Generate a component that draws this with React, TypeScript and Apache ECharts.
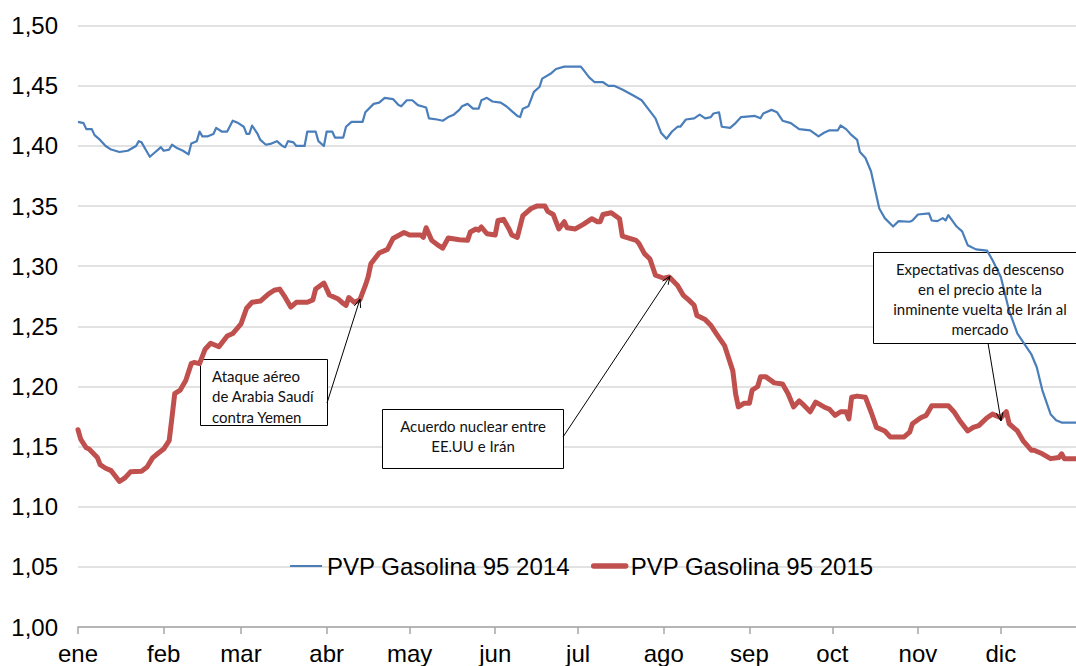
import React, { useEffect, useRef } from 'react';
import * as echarts from 'echarts';

// Month labels and their first day (day of year, 0-based)
const monthLabels = ['ene', 'feb', 'mar', 'abr', 'may', 'jun', 'jul', 'ago', 'sep', 'oct', 'nov', 'dic'];
const monthStarts = [0, 31, 59, 90, 120, 151, 181, 212, 243, 273, 304, 334];

const seriesNames = ['PVP Gasolina 95 2014', 'PVP Gasolina 95 2015'];

// PVP Gasolina 95 2014 (day of year, €/l)
const days2014 = [0,2,3,5,6,8,10,12,15,18,21,22,23,25,26,28,29,30,31,33,34,36,38,40,41,43,44,45,47,49,50,52,54,56,58,60,61,62,63,65,66,68,70,72,73,74,75,76,78,79,82,83,86,87,89,90,92,93,96,97,99,103,104,107,109,111,114,116,117,119,121,123,126,127,130,132,134,136,138,139,141,143,145,146,148,150,153,155,157,159,160,161,163,165,167,168,171,173,176,182,183,185,187,190,192,194,197,201,204,207,209,211,213,215,217,218,220,223,225,227,229,230,232,233,236,238,240,245,247,248,251,253,255,258,261,265,268,270,272,275,276,278,280,282,283,285,287,290,292,295,297,301,302,304,308,309,311,313,314,315,318,320,322,325,329,331,334,337,340,345,347,349,352,354,356,361,365];
const gas2014 = [1.420,1.419,1.414,1.414,1.409,1.405,1.400,1.397,1.395,1.396,1.400,1.404,1.403,1.395,1.391,1.395,1.397,1.399,1.396,1.397,1.401,1.398,1.396,1.393,1.402,1.404,1.412,1.408,1.408,1.410,1.415,1.412,1.412,1.421,1.419,1.416,1.410,1.410,1.417,1.410,1.405,1.401,1.402,1.404,1.402,1.400,1.399,1.404,1.403,1.400,1.400,1.412,1.412,1.404,1.400,1.412,1.412,1.407,1.407,1.416,1.420,1.420,1.428,1.435,1.436,1.440,1.439,1.434,1.433,1.438,1.438,1.434,1.432,1.423,1.422,1.421,1.424,1.426,1.430,1.433,1.435,1.431,1.431,1.438,1.440,1.437,1.436,1.433,1.429,1.425,1.424,1.431,1.433,1.445,1.449,1.456,1.460,1.464,1.466,1.466,1.463,1.457,1.453,1.453,1.450,1.450,1.447,1.442,1.438,1.429,1.423,1.411,1.406,1.412,1.416,1.416,1.422,1.423,1.426,1.423,1.424,1.427,1.428,1.416,1.415,1.419,1.424,1.425,1.423,1.427,1.430,1.428,1.421,1.419,1.414,1.413,1.408,1.411,1.413,1.413,1.417,1.414,1.409,1.405,1.395,1.390,1.379,1.348,1.340,1.333,1.3375,1.337,1.338,1.343,1.344,1.338,1.3375,1.340,1.338,1.3425,1.333,1.329,1.3175,1.314,1.313,1.305,1.291,1.263,1.244,1.227,1.216,1.197,1.177,1.172,1.170,1.170,1.170];

// PVP Gasolina 95 2015 (day of year, €/l)
const days2015 = [0,1,3,4,7,8,10,12,13,15,17,19,23,25,27,29,31,33,34,35,37,39,41,42,44,46,48,51,54,56,59,61,63,66,69,71,73,75,77,79,83,85,86,89,91,94,96,97,98,100,102,104,105,106,109,112,114,118,120,124,125,126,128,130,132,134,138,141,142,144,145,146,148,151,152,154,156,157,159,161,164,166,169,170,172,174,176,177,180,183,186,188,189,190,193,196,197,202,203,205,207,209,212,214,217,219,221,223,224,227,229,231,234,235,237,238,239,241,243,244,246,247,249,252,255,257,259,261,262,265,267,270,272,274,276,278,279,280,282,285,287,289,292,294,299,301,302,305,307,309,315,317,319,322,324,326,329,331,334,336,337,340,342,345,346,349,352,355,356,357,361,365];
const gas2015 = [1.164,1.156,1.149,1.148,1.141,1.135,1.132,1.130,1.127,1.121,1.124,1.129,1.1296,1.133,1.1406,1.1445,1.148,1.155,1.174,1.194,1.197,1.205,1.219,1.220,1.219,1.231,1.236,1.233,1.242,1.244,1.252,1.265,1.270,1.271,1.277,1.280,1.281,1.274,1.266,1.270,1.270,1.272,1.281,1.286,1.276,1.273,1.269,1.2675,1.274,1.270,1.272,1.284,1.291,1.302,1.311,1.314,1.323,1.328,1.326,1.326,1.324,1.332,1.3215,1.318,1.315,1.3235,1.322,1.3215,1.3285,1.331,1.330,1.3326,1.327,1.326,1.338,1.339,1.331,1.326,1.324,1.342,1.348,1.350,1.350,1.3456,1.343,1.331,1.337,1.332,1.331,1.335,1.3395,1.337,1.337,1.343,1.3445,1.3395,1.325,1.3215,1.319,1.3105,1.306,1.2925,1.290,1.291,1.284,1.276,1.272,1.2675,1.259,1.2556,1.251,1.244,1.234,1.227,1.213,1.194,1.183,1.186,1.186,1.197,1.200,1.208,1.208,1.203,1.202,1.194,1.183,1.188,1.186,1.179,1.187,1.183,1.181,1.176,1.179,1.179,1.173,1.191,1.192,1.191,1.179,1.166,1.163,1.158,1.158,1.162,1.169,1.174,1.176,1.184,1.184,1.179,1.172,1.163,1.166,1.1675,1.174,1.177,1.174,1.179,1.169,1.163,1.155,1.147,1.147,1.144,1.140,1.141,1.144,1.140,1.140,1.140];

// Annotation texts
const note1 = ['Ataque aéreo', 'de Arabia Saudí', 'contra Yemen'];
const note2 = ['Acuerdo nuclear entre', 'EE.UU e Irán'];
const note3 = ['Expectativas de descenso', 'en el precio ante la', 'inminente vuelta de Irán al', 'mercado'];

const AXIS_FONT = '"Liberation Sans", Arial, sans-serif';
const NOTE_FONT = 'Lato, "Open Sans", sans-serif';

const BLUE = '#4a7ebb';
const RED = '#c0504d';

function arrow(x1: number, y1: number, x2: number, y2: number): any[] {
  const ang = Math.atan2(y2 - y1, x2 - x1);
  const L = 9;
  const W = 0.38;
  return [
    { type: 'line', z: 30, shape: { x1, y1, x2, y2 }, style: { stroke: '#000', lineWidth: 1 } },
    {
      type: 'polyline', z: 30,
      shape: {
        points: [
          [x2 - L * Math.cos(ang - W), y2 - L * Math.sin(ang - W)],
          [x2, y2],
          [x2 - L * Math.cos(ang + W), y2 - L * Math.sin(ang + W)],
        ],
      },
      style: { stroke: '#000', fill: 'none', lineWidth: 1 },
    },
  ];
}

function noteBox(x: number, y: number, w: number, h: number, lines: string[], tx: number, ty: number, align: string): any[] {
  const els: any[] = [
    { type: 'rect', z: 1, shape: { x, y, width: w, height: h }, style: { fill: '#fff', stroke: '#000', lineWidth: 1 } },
  ];
  lines.forEach((t, i) => {
    els.push({
      type: 'text', z: 30, x: tx, y: ty + i * 20.3,
      style: { text: t, fill: '#111', fontSize: 15, fontFamily: NOTE_FONT, align, verticalAlign: 'middle' },
    });
  });
  return els;
}

export default function App() {
  const ref = useRef<HTMLDivElement>(null);
  useEffect(() => {
    const chart = echarts.init(ref.current!, null, { renderer: 'svg' });
    const zip = (d: number[], v: number[]) => d.map((x, i) => [x, v[i]]);
    const graphics: any[] = [
      ...noteBox(200.5, 359.5, 127, 66, note1, 212, 376, 'left'),
      ...noteBox(382.5, 409.5, 181, 59, note2, 473, 425.5, 'center'),
      ...noteBox(873.5, 252.5, 220, 91, note3, 980, 268.5, 'center'),
      ...arrow(327, 403, 360, 299),
      ...arrow(563, 437, 670, 276),
      ...arrow(988, 343, 1001, 421),
    ];
    chart.setOption({
      animation: false,
      grid: { left: 78, right: 0, top: 25.7, bottom: 39, containLabel: false },
      legend: {
        left: 284,
        top: 549,
        itemWidth: 32,
        itemHeight: 14,
        itemGap: 21,
        data: [
          { name: seriesNames[0], lineStyle: { width: 2.2, color: BLUE } },
          { name: seriesNames[1], lineStyle: { width: 5.5, color: RED } },
        ],
        itemStyle: { opacity: 0 },
        textStyle: { fontSize: 24, fontFamily: AXIS_FONT, color: '#000' },
      },
      xAxis: {
        type: 'value',
        min: 0,
        max: 361.2,
        axisLine: { show: true, lineStyle: { color: '#a6a6a6', width: 1.5 } },
        axisTick: { show: true, customValues: monthStarts, length: 7, lineStyle: { color: '#a6a6a6', width: 1.5 } },
        axisLabel: {
          customValues: monthStarts,
          formatter: (v: number) => monthLabels[monthStarts.indexOf(Math.round(v))] ?? '',
          fontSize: 24,
          fontFamily: AXIS_FONT,
          color: '#000',
          margin: 14,
        },
        splitLine: { show: false },
      },
      yAxis: {
        type: 'value',
        min: 1.0,
        max: 1.5,
        interval: 0.05,
        axisLine: { show: false },
        axisTick: { show: false },
        axisLabel: {
          formatter: (v: number) => v.toFixed(2).replace('.', ','),
          fontSize: 24,
          fontFamily: AXIS_FONT,
          color: '#000',
          margin: 20,
        },
        splitLine: { lineStyle: { color: '#d9d9d9', width: 1.5 } },
      },
      series: [
        {
          name: seriesNames[0],
          type: 'line',
          data: zip(days2014, gas2014),
          symbol: 'none',
          z: 3,
          lineStyle: { color: BLUE, width: 2.2, join: 'round' },
          itemStyle: { color: BLUE },
        },
        {
          name: seriesNames[1],
          type: 'line',
          data: zip(days2015, gas2015),
          symbol: 'none',
          z: 4,
          lineStyle: { color: RED, width: 5, join: 'round', cap: 'round' },
          itemStyle: { color: RED },
        },
      ],
      graphic: graphics,
    });
    return () => chart.dispose();
  }, []);
  return <div ref={ref} style={{ position: 'absolute', left: 0, top: 0, width: 1076, height: 666 }} />;
}
